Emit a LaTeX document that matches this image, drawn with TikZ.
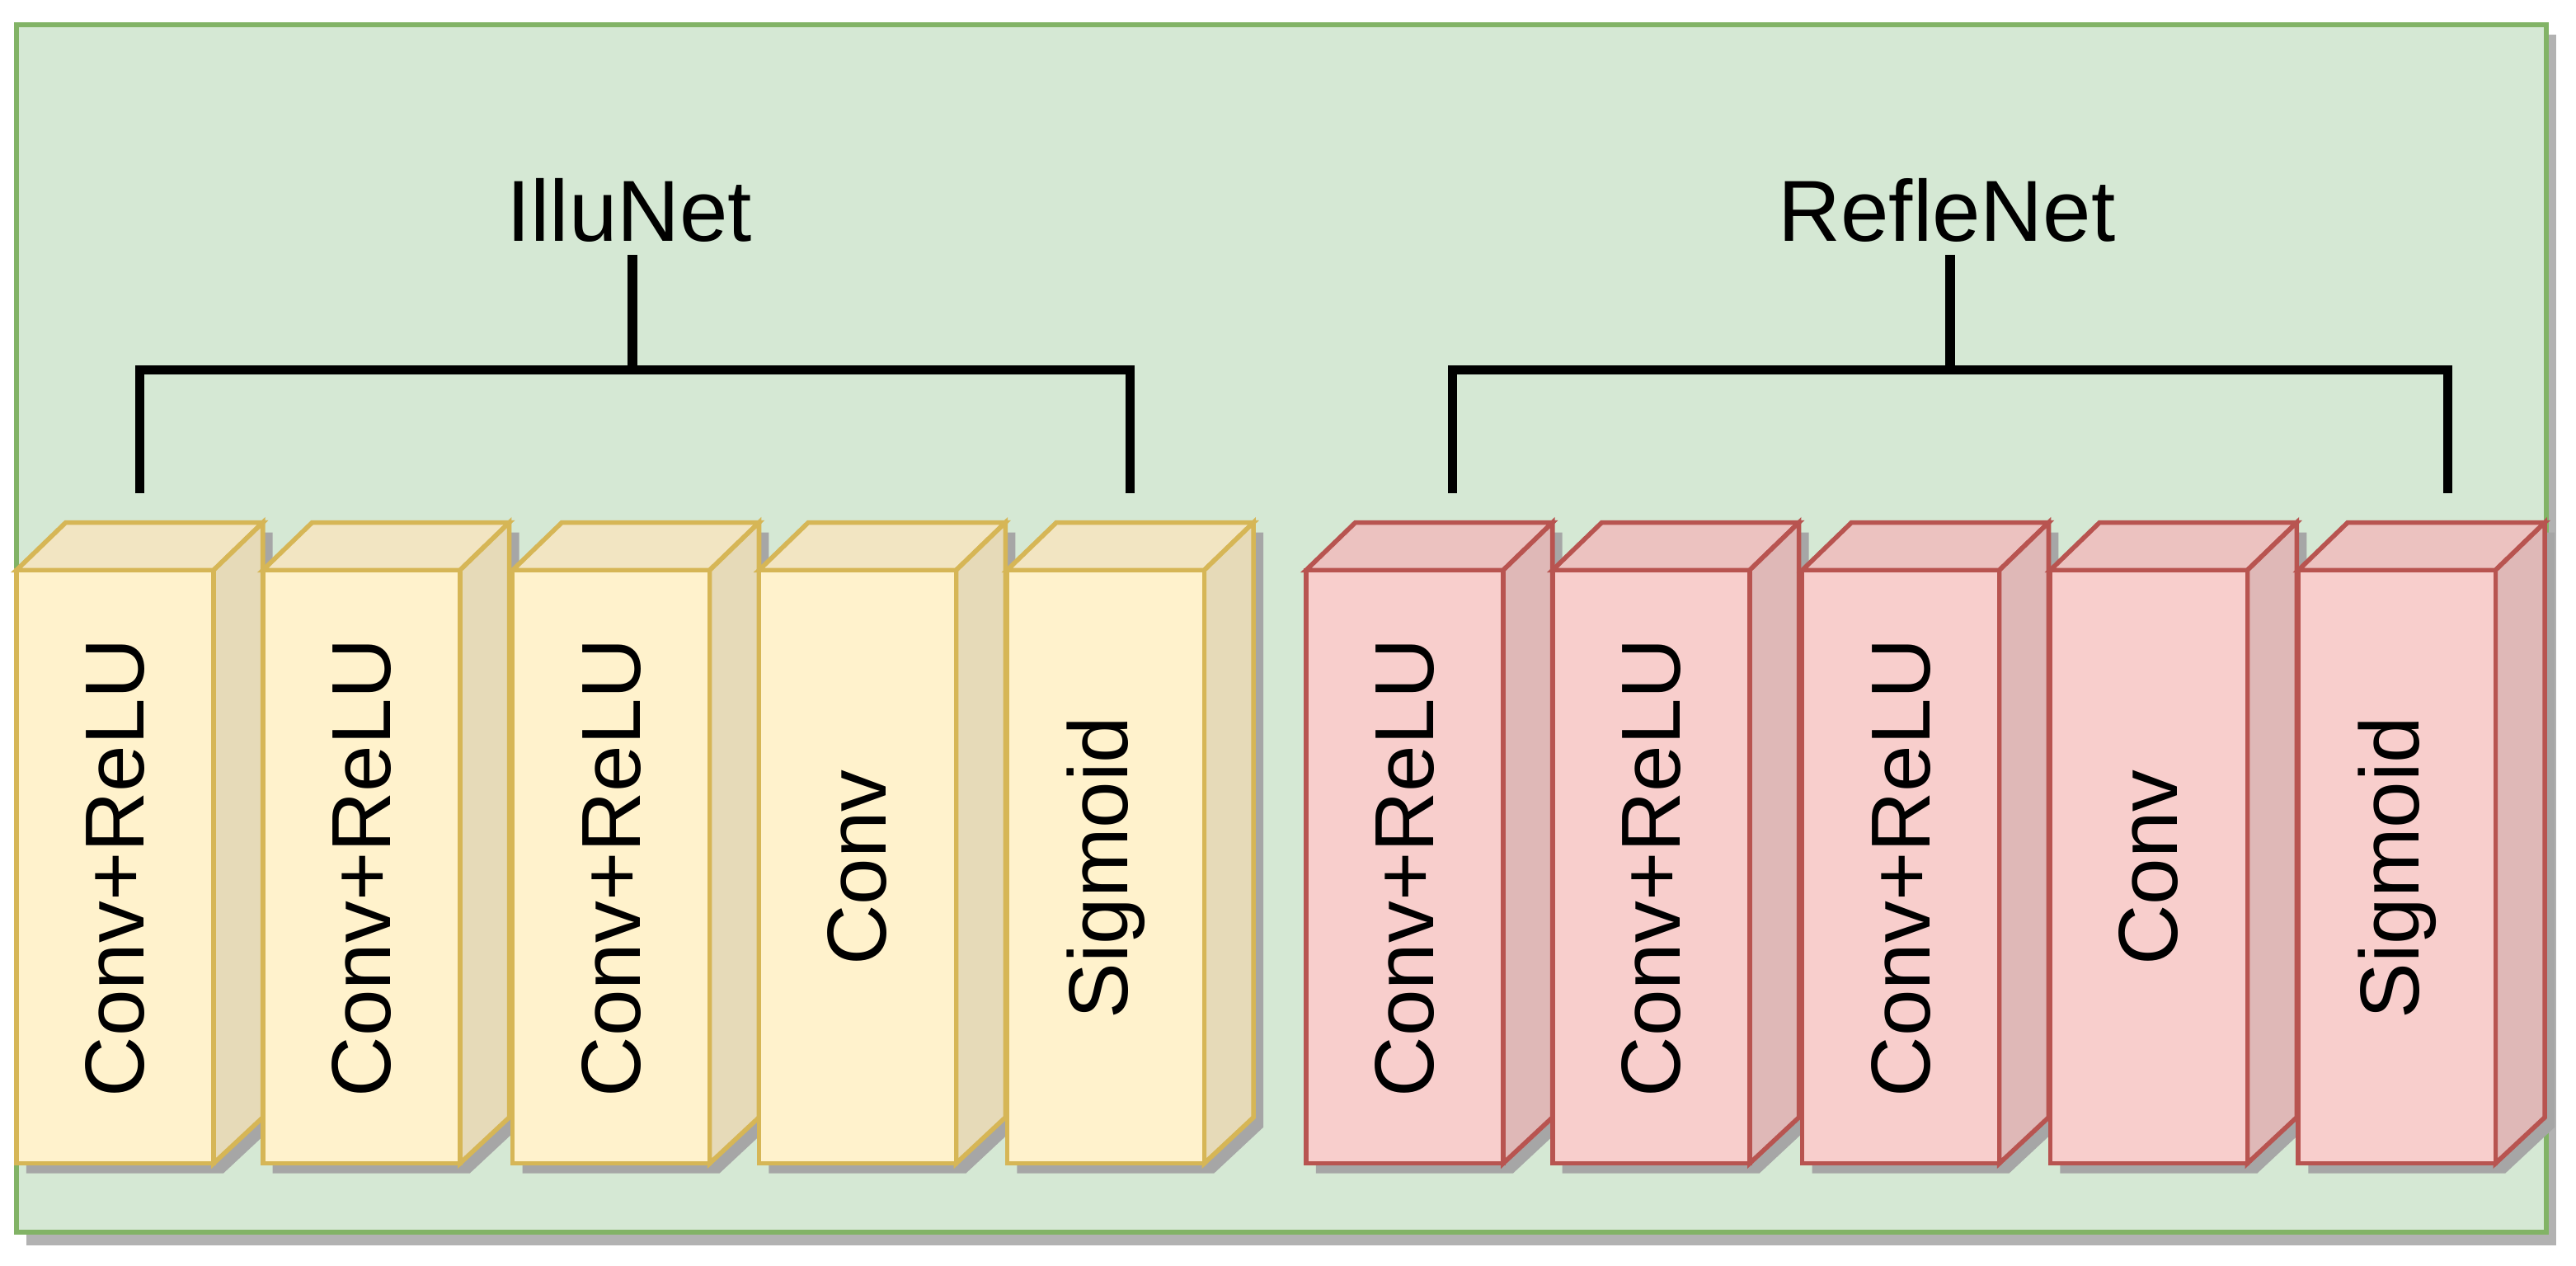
\documentclass[tikz,border=0pt]{standalone}
\usepackage{fontspec}
\setmainfont{Liberation Sans}
\usetikzlibrary{calc}

\definecolor{bggreen}{HTML}{D5E8D4}
\definecolor{bgline}{HTML}{82B366}
\definecolor{ylfront}{HTML}{FFF2CC}
\definecolor{yltop}{HTML}{F2E5C2}
\definecolor{ylside}{HTML}{E6DAB8}
\definecolor{ylline}{HTML}{D6B656}
\definecolor{rdfront}{HTML}{F8CECC}
\definecolor{rdtop}{HTML}{ECC2C0}
\definecolor{rdside}{HTML}{DFB8B7}
\definecolor{rdline}{HTML}{B85450}

\begin{document}
\begin{tikzpicture}[x=0.01cm,y=-0.01cm,
    layer/.style={font={\fontsize{14.5}{17}\selectfont},rotate=90},
    title/.style={font={\fontsize{15}{17}\selectfont}},
    bracket/.style={line width=1.6pt,black},
    ]
    \useasboundingbox (0,0) rectangle (1568,770);
    % background panel
    \fill[gray!60] (16,21) rectangle (1556,758);
    \draw[bgline,fill=bggreen,line width=0.8pt] (10,15) rectangle (1550,750);
    % yellow blocks
    \foreach \x/\t [count=\i] in {10/Conv+ReLU,160/Conv+ReLU,312/Conv+ReLU,462/Conv,613/Sigmoid}{
        \fill[gray!70,shift={(6,6)}] (\x,347) -- (\x+30,318) -- (\x+150,318)
            -- (\x+150,680) -- (\x+120,708) -- (\x,708) -- cycle;
        \draw[ylline,fill=yltop,line width=0.8pt] (\x,347) -- (\x+30,318) -- (\x+150,318) -- (\x+120,347) -- cycle;
        \draw[ylline,fill=ylside,line width=0.8pt] (\x+120,347) -- (\x+150,318) -- (\x+150,680) -- (\x+120,708) -- cycle;
        \draw[ylline,fill=ylfront,line width=0.8pt] (\x,347) rectangle (\x+120,708);
        \node[layer] (il\i) at (\x+60,528) {\t};
    }
    % red blocks
    \foreach \x/\t [count=\i] in {795/Conv+ReLU,945/Conv+ReLU,1097/Conv+ReLU,1248/Conv,1399/Sigmoid}{
        \fill[gray!70,shift={(6,6)}] (\x,347) -- (\x+30,318) -- (\x+150,318)
            -- (\x+150,680) -- (\x+120,708) -- (\x,708) -- cycle;
        \draw[rdline,fill=rdtop,line width=0.8pt] (\x,347) -- (\x+30,318) -- (\x+150,318) -- (\x+120,347) -- cycle;
        \draw[rdline,fill=rdside,line width=0.8pt] (\x+120,347) -- (\x+150,318) -- (\x+150,680) -- (\x+120,708) -- cycle;
        \draw[rdline,fill=rdfront,line width=0.8pt] (\x,347) rectangle (\x+120,708);
        \node[layer] (rf\i) at (\x+60,528) {\t};
    }
    % titles and brackets
    \node[title] (illu) at (383,128) {IlluNet};
    \node[title] (refle) at (1185,128) {RefleNet};
    \coordinate (illuL) at (85,300);
    \coordinate (illuR) at (688,300);
    \coordinate (refleL) at (884,300);
    \coordinate (refleR) at (1490,300);
    \draw[bracket] (illuL) |- (385,225) -| (illuR);
    \draw[bracket] (385,155) -- (385,225);
    \draw[bracket] (refleL) |- (1187,225) -| (refleR);
    \draw[bracket] (1187,155) -- (1187,225);
\end{tikzpicture}
\end{document}
